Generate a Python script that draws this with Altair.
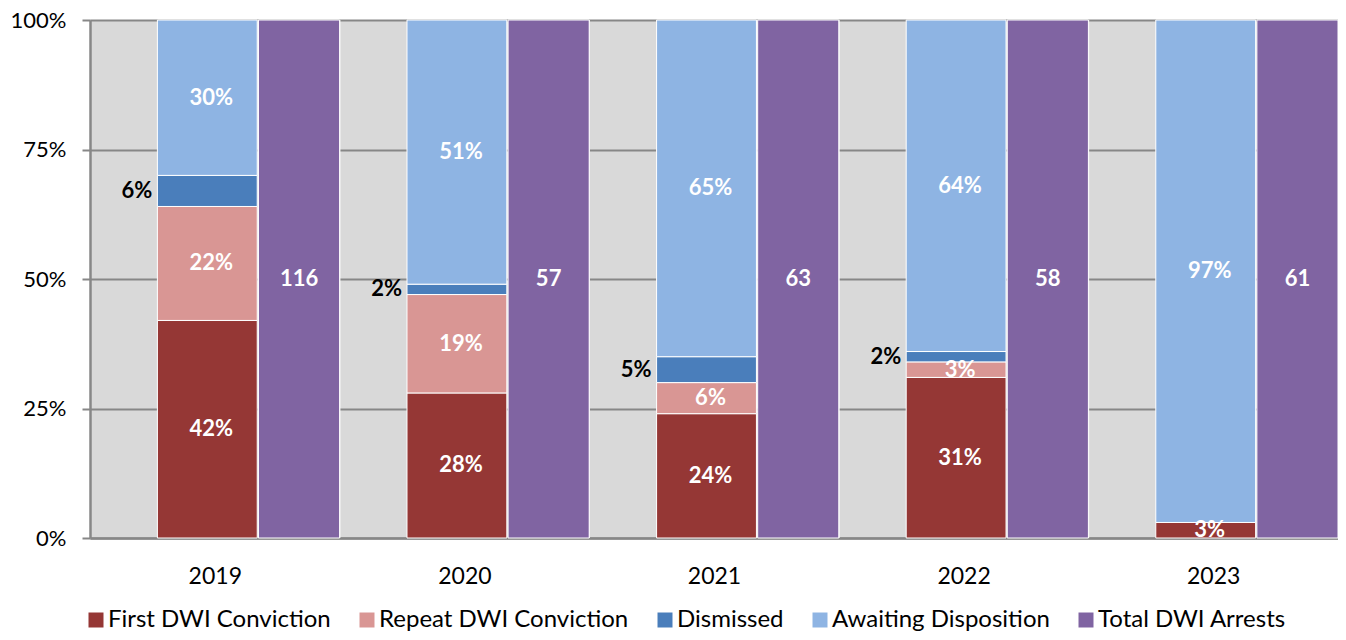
import json
import altair as alt
import pandas as pd

years = ["2019", "2020", "2021", "2022", "2023"]
first_dwi = [42, 28, 24, 31, 3]
repeat_dwi = [22, 19, 6, 3, 0]
dismissed = [6, 2, 5, 2, 0]
awaiting = [30, 51, 65, 64, 97]
total_arrests = [116, 57, 63, 58, 61]

series_names = ["First DWI Conviction", "Repeat DWI Conviction", "Dismissed",
                "Awaiting Disposition", "Total DWI Arrests"]
series_colors = ["#953735", "#D99694", "#4A7EBB", "#8EB4E3", "#8064A2"]

FONT = "Lato"
GRID = "#878787"

rows = []
for i, y in enumerate(years):
    for k, vals in enumerate([first_dwi, repeat_dwi, dismissed, awaiting]):
        rows.append({"year": y, "idx": i, "series": series_names[k], "value": vals[i], "order": k})
stack_df = pd.DataFrame(rows)

tot_df = pd.DataFrame({"year": years, "idx": list(range(len(years))), "total": total_arrests,
                       "series": series_names[4]})
bound_df = pd.DataFrame({"b": list(range(1, len(years)))})

xs = alt.Scale(domain=[0, len(years)], nice=False, zero=False)
ys = alt.Scale(domain=[0, 1], nice=False)

label_expr = json.dumps(years) + "[floor(datum.value)]"
x_axis = alt.Axis(values=[i + 0.5 for i in range(len(years))], labelExpr=label_expr,
                  title=None, grid=False, ticks=False, domainColor=GRID, domainWidth=2.5,
                  labelFontSize=23, labelFont=FONT, labelColor="#000", labelPadding=27)
y_axis = alt.Axis(values=[0, 0.25, 0.5, 0.75, 1], format=".0%", title=None, grid=True,
                  gridColor=GRID, gridWidth=2, domainColor=GRID, domainWidth=2.5,
                  tickColor=GRID, tickWidth=2, tickSize=8, labelFontSize=22, labelFont=FONT,
                  labelColor="#000", labelPadding=16)

color = alt.Color("series:N", scale=alt.Scale(domain=series_names, range=series_colors),
                  legend=alt.Legend(orient="none", legendX=-6, legendY=588, direction="horizontal",
                                    columns=5, title=None, symbolType="square", symbolSize=225,
                                    symbolStrokeWidth=0, labelFontSize=24, labelFont=FONT,
                                    labelColor="#000", columnPadding=24, labelOffset=0,
                                    labelLimit=400, padding=0))

base_stack = alt.Chart(stack_df).transform_stack(
    stack="value", groupby=["year"], as_=["v0", "v1"], sort=[alt.SortField("order")]
).transform_calculate(
    x0="datum.idx + 0.27", x1="datum.idx + 0.67",
    y0="datum.v0 / 100", y1="datum.v1 / 100",
    xm="datum.idx + 0.47", ym="(datum.v0 + datum.v1) / 200",
    lab="datum.value + '%'"
)

bounds = alt.Chart(bound_df).mark_rule(color="white", strokeWidth=1.5).encode(
    x=alt.X("b:Q", scale=xs, axis=x_axis)
)

bars = base_stack.transform_filter("datum.value > 0").mark_rect(stroke="white", strokeWidth=1).encode(
    x=alt.X("x0:Q", scale=xs, axis=x_axis), x2="x1:Q",
    y=alt.Y("y0:Q", scale=ys, axis=y_axis), y2="y1:Q",
    color=color,
)

totals = alt.Chart(tot_df).transform_calculate(
    x0="datum.idx + 0.675", x1="datum.idx + 1.0",
    ybase="0",
    yfull="datum.total / datum.total", ymid="datum.total / datum.total / 2",
    xm="datum.idx + 0.8375"
)
tot_bars = totals.mark_rect(stroke="white", strokeWidth=1).encode(
    x=alt.X("x0:Q", scale=xs), x2="x1:Q",
    y=alt.Y("ybase:Q", scale=ys), y2="yfull:Q",
    color=color,
)
tot_text = totals.mark_text(font=FONT, fontSize=22, fontWeight="bold", color="white").encode(
    x=alt.X("xm:Q", scale=xs), y=alt.Y("ymid:Q", scale=ys), text="total:N"
)

white_text = base_stack.transform_filter(
    "datum.value > 0 && datum.series != 'Dismissed'"
).mark_text(font=FONT, fontSize=22, fontWeight="bold", color="white", dx=4).encode(
    x=alt.X("xm:Q", scale=xs), y=alt.Y("ym:Q", scale=ys), text="lab:N"
)

dis_text = base_stack.transform_filter(
    "datum.value > 0 && datum.series == 'Dismissed'"
).mark_text(font=FONT, fontSize=22, fontWeight="bold", color="black", align="right", dx=-5).encode(
    x=alt.X("x0:Q", scale=xs), y=alt.Y("ym:Q", scale=ys), text="lab:N"
)

chart = alt.layer(bounds, bars, tot_bars, tot_text, white_text, dis_text).properties(
    width=1248, height=518,
    autosize=alt.AutoSizeParams(type="none"),
    padding={"left": 82, "top": 12, "right": 0, "bottom": 94},
).configure_view(fill="#D9D9D9", strokeWidth=0)

chart.save("out.html", embed_options={"renderer": "svg", "actions": False})
